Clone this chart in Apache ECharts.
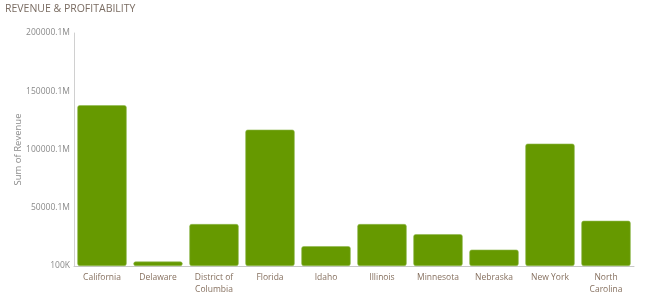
<!DOCTYPE html>
<html><head><meta charset="utf-8">
<script src="https://cdn.jsdelivr.net/npm/echarts@6/dist/echarts.min.js"></script>
<style>html,body{margin:0;padding:0;background:#fff}#c{width:650px;height:306px}</style>
</head><body><div id="c"></div>
<script>
const categories = ['California','Delaware','District of\nColumbia','Florida','Idaho','Illinois','Minnesota','Nebraska','New York','North\nCarolina'];
const revenue = [138000, 3800, 36000, 117000, 17000, 36000, 27300, 14000, 105000, 38800];
const yTickLabels = ['100K','50000.1M','100000.1M','150000.1M','200000.1M'];

const chart = echarts.init(document.getElementById('c'), null, {renderer:'canvas'});
chart.setOption({
  animation:false,
  title:{text:'REVENUE & PROFITABILITY', left:5, top:4, padding:0,
    textStyle:{fontFamily:'Open Sans', fontSize:10.5, fontWeight:'normal', color:'#7a6c62'}},
  grid:{left:74, right:16, top:33, bottom:40, containLabel:false, outerBoundsMode:'none'},
  xAxis:{type:'category', data:categories,
    axisLine:{lineStyle:{color:'#c8c8c8'}}, axisTick:{show:false},
    axisLabel:{fontFamily:'Open Sans', fontSize:8.5, color:'#86705f', lineHeight:11.5, margin:6, interval:0}},
  yAxis:{type:'value', min:0, max:200000, interval:50000,
    name:'Sum of Revenue', nameLocation:'middle', nameGap:51, nameRotate:90, nameMoveOverlap:false,
    nameTextStyle:{fontFamily:'Open Sans', fontSize:9.5, color:'#8a8a8a'},
    axisLine:{show:true, lineStyle:{color:'#d0d0d0'}}, axisTick:{show:false},
    splitLine:{show:false},
    axisLabel:{fontFamily:'Open Sans', fontSize:8.5, color:'#8a8a8a', margin:4,
      formatter:(v)=>yTickLabels[Math.round(v/50000)]}},
  series:[{type:'bar', data:revenue, barCategoryGap:'12%',
    itemStyle:{color:'#669900', borderColor:'#8fb84d', borderWidth:0.6, borderRadius:2}}]
});
</script></body></html>
